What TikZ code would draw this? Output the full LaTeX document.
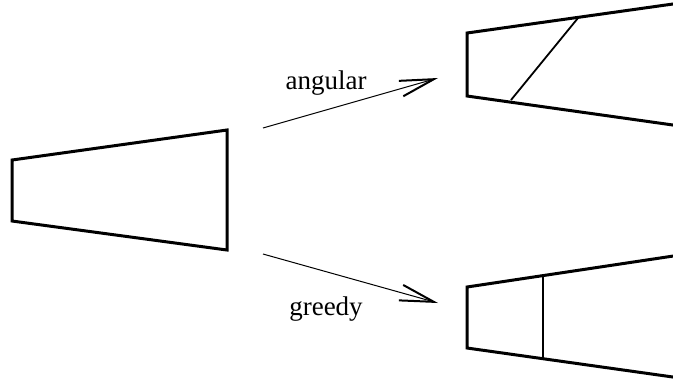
\documentclass[tikz,border=0pt]{standalone}
\usepackage{fontspec}
\setmainfont{Liberation Serif}
\usetikzlibrary{arrows.meta}
\begin{document}
\begin{tikzpicture}[x=0.5pt,y=-0.5pt,
  shapeline/.style={line width=1.5pt,line join=miter},
  cutline/.style={line width=0.9pt},
  flow/.style={line width=0.5pt,-{Straight Barb[length=17pt,width=8pt,line width=1pt]}},
  lbl/.style={font=\fontsize{13.5}{16}\selectfont,anchor=base,inner sep=0pt}]
\useasboundingbox (0,0) rectangle (673,382);
% left trapezoid
\draw[shapeline] (12,160) -- (227,130) -- (227,250) -- (12,221) -- cycle;
% top-right trapezoid
\draw[shapeline] (680,3) -- (467,33) -- (467,96) -- (680,126);
\draw[cutline] (578,18) -- (511,100);
% bottom-right trapezoid
\draw[shapeline] (680,255) -- (467,287) -- (467,348) -- (680,378);
\draw[cutline] (543,275) -- (543,358);
% arrows
\coordinate (a1) at (263,128);
\coordinate (a2) at (438,78);
\coordinate (g1) at (263,254);
\coordinate (g2) at (438,303);
\draw[flow] (a1) -- (a2);
\draw[flow] (g1) -- (g2);
\node[lbl] (la) at (326,89) {angular};
\node[lbl] (lg) at (326,315) {greedy};
\end{tikzpicture}
\end{document}
